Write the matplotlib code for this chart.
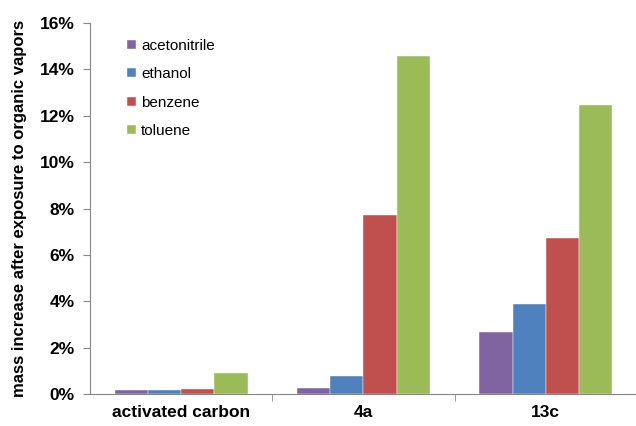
import matplotlib
matplotlib.use("Agg")
import matplotlib.pyplot as plt
import numpy as np
from matplotlib.ticker import FuncFormatter

plt.rcParams['font.family'] = ['Liberation Sans', 'DejaVu Sans']

groups = ['activated carbon', '4a', '13c']
series = ['acetonitrile', 'ethanol', 'benzene', 'toluene']
colors = ['#8064A2', '#4F81BD', '#C0504D', '#9BBB59']
acetonitrile = [0.16, 0.25, 2.69]
ethanol = [0.19, 0.78, 3.88]
benzene = [0.22, 7.70, 6.71]
toluene = [0.92, 14.57, 12.47]
values = [acetonitrile, ethanol, benzene, toluene]

fig = plt.figure(figsize=(6.36, 4.26), dpi=100)
ax = fig.add_axes([0.1415, 0.075, 0.86, 0.871])

x = np.arange(len(groups))
w = 0.182
for i, (name, vals) in enumerate(zip(series, values)):
    ax.bar(x + (i - 1.5) * w, vals, width=w, color=colors[i], label=name,
           edgecolor='white', linewidth=0.3)

ax.set_xlim(-0.5, 2.5)
ax.set_ylim(0, 16)
ax.set_yticks(range(0, 17, 2))
ax.yaxis.set_major_formatter(FuncFormatter(lambda v, p: '%d%%' % v))
ax.set_xticks(x)
ax.set_xticklabels(groups, fontsize=12.5, fontweight='bold')
ax.set_xticks([0.5, 1.5], minor=True)
ax.tick_params(axis='x', which='major', length=0, pad=8)
ax.tick_params(axis='x', which='minor', length=5, color='#868686')
ax.tick_params(axis='y', length=5, color='#868686', labelsize=12.5, pad=6)
for lab in ax.get_yticklabels():
    lab.set_fontweight('bold')

for s in ['top', 'right']:
    ax.spines[s].set_visible(False)
for s in ['left', 'bottom']:
    ax.spines[s].set_color('#868686')

ax.set_ylabel('mass increase after exposure to organic vapors', fontsize=12,
              fontweight='bold', labelpad=9)

ax.legend(loc='upper left', bbox_to_anchor=(0.043, 0.995), frameon=False,
          fontsize=11, handlelength=0.55, handleheight=0.55, labelspacing=0.95,
          handletextpad=0.35)

fig.savefig('out.png', dpi=100)
